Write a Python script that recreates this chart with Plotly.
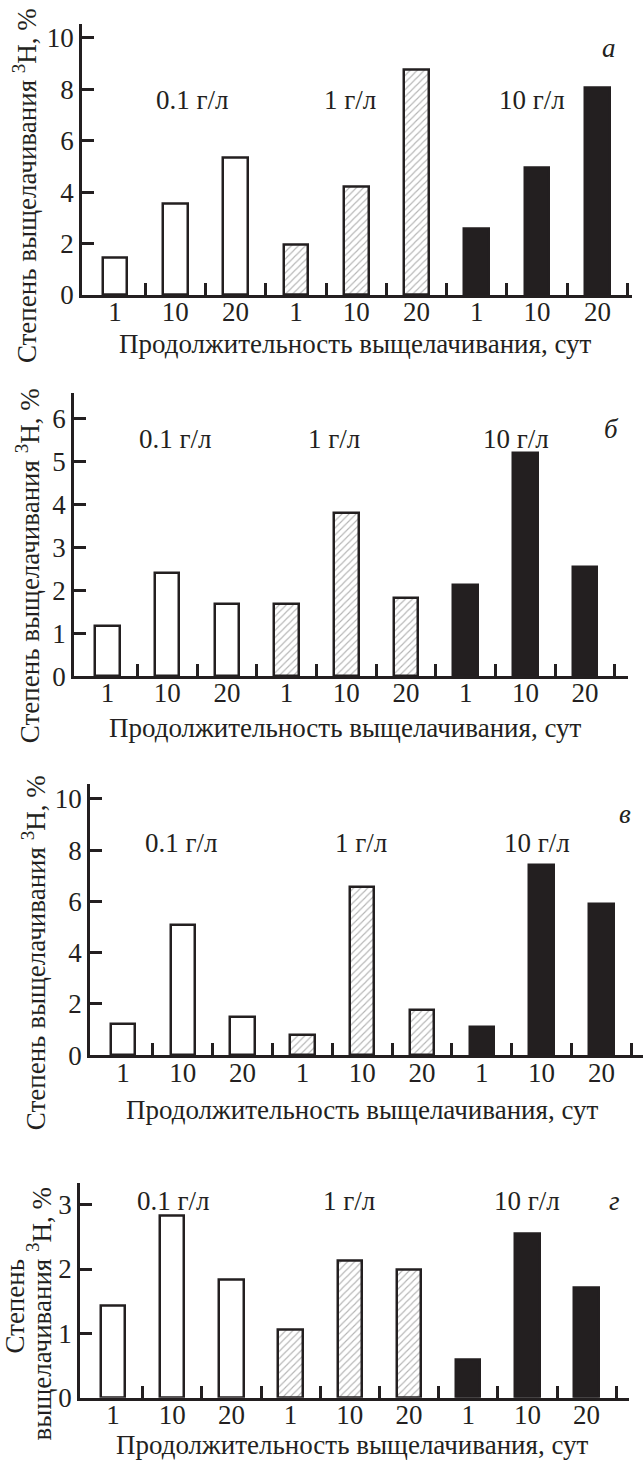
import plotly.graph_objects as go

# Leaching duration (days) and sodium concentration groups
days = ["1", "10", "20"]
concentrations = ["0.1 г/л", "1 г/л", "10 г/л"]
panel_letters = ["а", "б", "в", "г"]

# Degree of ³H leaching, %, for each panel (3 concentrations x 3 durations)
leach_a = [1.45, 3.55, 5.32, 1.95, 4.22, 8.78, 2.59, 4.94, 8.08]
leach_b = [1.17, 2.41, 1.69, 1.69, 3.81, 1.83, 2.12, 5.19, 2.55]
leach_c = [1.20, 5.08, 1.49, 0.77, 6.57, 1.77, 1.09, 7.43, 5.91]
leach_d = [1.42, 2.82, 1.83, 1.06, 2.13, 1.99, 0.59, 2.54, 1.70]
panels = [leach_a, leach_b, leach_c, leach_d]

W, H = 643, 1474
INK = "#231f20"
FONT = "Liberation Serif"
FS = 27

# Pixel geometry of each panel: y-axis x, first bar centre, bar pitch, axis end,
# zero line y, top of y-axis, y-axis top value, y tick step
geom = [
    dict(left=82, c0=115, sp=60.3, right=632, zero=298, top=24, ymax=10.55, dy=2),
    dict(left=74, c0=107.5, sp=59.7, right=628, zero=683, top=397, ymax=6.6, dy=1),
    dict(left=90, c0=123, sp=59.8, right=643, zero=1066, top=792, ymax=10.58, dy=2),
    dict(left=80, c0=113, sp=59.2, right=629, zero=1412, top=1195, ymax=3.34, dy=1),
]
# Annotation placement (data units) for group labels and panel letters
group_label_x = [[1.29, 3.9, 6.92], [1.14, 3.8, 6.84], [0.97, 3.98, 6.93], [1.03, 3.98, 7.0]]
group_label_y = [7.6, 5.52, 8.27, 3.06]
letter_xy = [(8.19, 9.6), (8.45, 5.75), (8.4, 9.42), (8.47, 3.06)]
# x-axis title centres, px
xtitle_xy = [(355, 348), (345, 735), (362, 1121), (352, 1460)]

styles = [
    dict(color="white", pattern=dict(shape="")),
    dict(color="white", pattern=dict(shape="/", fgcolor="#6a6a6a", bgcolor="white",
                                     size=5, solidity=0.22)),
    dict(color=INK, pattern=dict(shape="")),
]


def paper_text(text, cx, cy, angle=0):
    return dict(x=cx / W, y=1 - cy / H, xref="paper", yref="paper", text=text,
                textangle=angle, xanchor="center", yanchor="middle",
                showarrow=False, font=dict(size=FS))


fig = go.Figure()
layout = dict(
    width=W, height=H, margin=dict(l=0, r=0, t=0, b=0),
    paper_bgcolor="white", plot_bgcolor="white", showlegend=False,
    font=dict(family=FONT, size=FS, color=INK),
    bargap=0,
)
annotations = []

for p, (vals, g) in enumerate(zip(panels, geom)):
    sfx = "" if p == 0 else str(p + 1)
    xa, ya = "x" + sfx, "y" + sfx
    positions = list(range(9))
    for k in range(3):
        st = styles[k]
        fig.add_trace(go.Bar(
            x=positions[3 * k:3 * k + 3], y=vals[3 * k:3 * k + 3],
            width=0.41, xaxis=xa, yaxis=ya,
            marker=dict(color=st["color"], pattern=st["pattern"],
                        line=dict(color=INK, width=2.5)),
        ))
    r0 = -(g["c0"] - g["left"]) / g["sp"]
    r1 = (g["right"] - g["c0"]) / g["sp"]
    layout["xaxis" + sfx] = dict(
        domain=[g["left"] / W, g["right"] / W], range=[r0, r1], anchor=ya,
        tickmode="array", tickvals=positions, ticktext=days * 3, ticks="",
        ticklabelstandoff=-9,
        showline=True, linecolor=INK, linewidth=3, showgrid=False, zeroline=False,
        tickfont=dict(size=FS), fixedrange=True,
        minor=dict(tickmode="array", tickvals=[i + 0.5 for i in range(9)],
                   ticks="inside", ticklen=12, tickwidth=2.5, tickcolor=INK, showgrid=False),
    )
    nt = int(g["ymax"] // g["dy"]) + 1
    layout["yaxis" + sfx] = dict(
        domain=[1 - g["zero"] / H, 1 - g["top"] / H], range=[0, g["ymax"]], anchor=xa,
        tickmode="array", tickvals=[i * g["dy"] for i in range(nt)],
        ticks="inside", ticklen=12, tickwidth=2.5, tickcolor=INK,
        showline=True, linecolor=INK, linewidth=2.5, showgrid=False, zeroline=False,
        tickfont=dict(size=FS), fixedrange=True,
    )
    for k, name in enumerate(concentrations):
        annotations.append(dict(x=group_label_x[p][k], y=group_label_y[p], xref=xa, yref=ya,
                                text=name, showarrow=False, xanchor="center", yanchor="middle",
                                font=dict(size=FS)))
    lx, ly = letter_xy[p]
    annotations.append(dict(x=lx, y=ly, xref=xa, yref=ya, text="<i>" + panel_letters[p] + "</i>",
                            showarrow=False, xanchor="center", yanchor="middle",
                            font=dict(size=FS)))
    tx, ty = xtitle_xy[p]
    annotations.append(paper_text("Продолжительность выщелачивания, сут", tx, ty))

# Y-axis titles (panel г is split over two lines)
ytitle = "Степень выщелачивания <sup>3</sup>H, %"
for (cx, cy) in [(25, 188), (28, 572), (34, 963)]:
    annotations.append(paper_text(ytitle, cx, cy, -90))
annotations.append(paper_text("Степень", 15, 1320, -90))
annotations.append(paper_text("выщелачивания <sup>3</sup>H, %", 40, 1328, -90))

layout["annotations"] = annotations
fig.update_layout(**layout)
fig.write_html("out.html")
